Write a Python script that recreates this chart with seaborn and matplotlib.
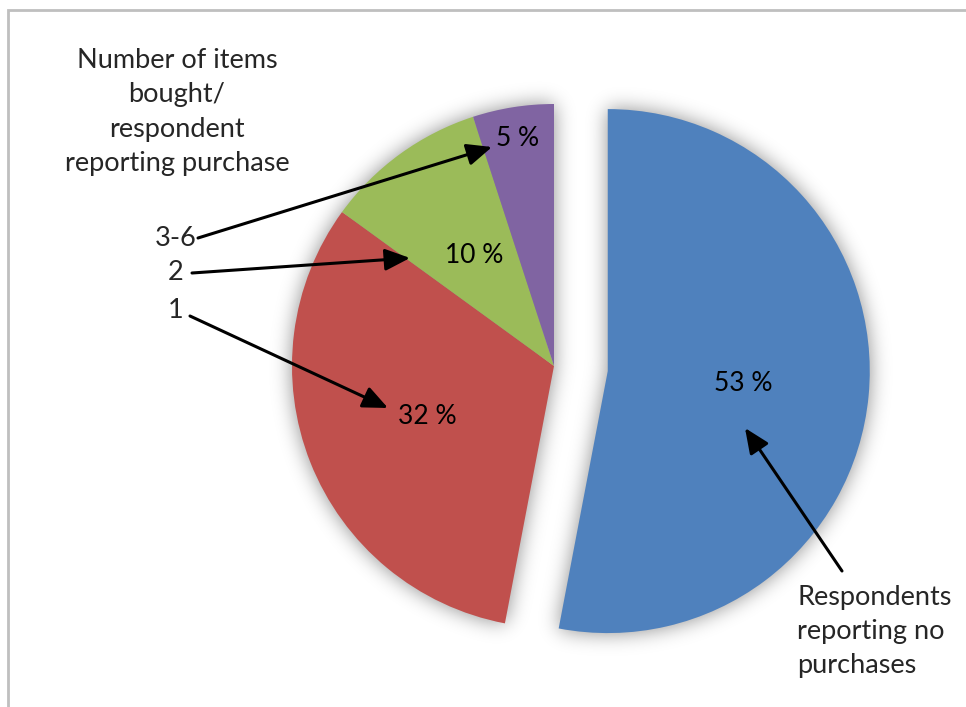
import numpy as np
import matplotlib
matplotlib.use("Agg")
import matplotlib.pyplot as plt
import seaborn as sns

# Share of respondents by number of items bought
categories = ["Respondents reporting no purchases", "1", "2", "3-6"]
shares = [53, 32, 10, 5]
colors = ["#4F81BD", "#C0504D", "#9BBB59", "#8064A2"]
legend_title = "Number of items\nbought/\nrespondent\nreporting purchase"

sns.set_theme(style="white")
plt.rcParams["font.family"] = ["Lato", "DejaVu Sans"]

W, H = 966, 707
fig = plt.figure(figsize=(W / 100, H / 100), dpi=100)
ax = fig.add_axes([0, 0, 1, 1])

def P(x, y):
    """Canvas position measured from the top-left corner."""
    return (x, H - y)

R = 262
center = P(554, 366)
explode = [54, 0, 0, 0]
fs = 19.5

wedges, texts, autotexts = ax.pie(
    shares, colors=colors, startangle=90, counterclock=False,
    radius=R, center=center, explode=explode,
    autopct=lambda p: f"{p:.0f} %", pctdistance=0.52,
    textprops=dict(fontsize=19, color="black"),
    wedgeprops=dict(linewidth=0),
)
# the narrowest slice carries its label near the rim
w = wedges[-1]
mid = np.deg2rad((w.theta1 + w.theta2) / 2)
autotexts[-1].set_position((w.center[0] + 0.88 * R * np.cos(mid),
                            w.center[1] + 0.88 * R * np.sin(mid)))
for t in autotexts:
    t.set_zorder(5)

ax.set_xlim(0, W)
ax.set_ylim(0, H)
ax.set_aspect("equal")
ax.axis("off")

# soft glow around the slices
xx, yy = np.meshgrid(np.arange(W) + 0.5, np.arange(H) + 0.5)
pts = np.column_stack([xx.ravel(), yy.ravel()])
mask = np.zeros(len(pts), dtype=bool)
for wd in wedges:
    mask |= wd.get_path().transformed(wd.get_patch_transform()).contains_points(pts)
mask = mask.reshape(H, W).astype(float)
sig = 10
k = np.arange(-3 * sig, 3 * sig + 1)
g = np.exp(-k ** 2 / (2 * sig ** 2)); g /= g.sum()
blur = np.apply_along_axis(lambda r: np.convolve(r, g, mode="same"), 1, mask)
blur = np.apply_along_axis(lambda c: np.convolve(c, g, mode="same"), 0, blur)
shadow = np.zeros((H, W, 4))
shadow[..., 3] = np.clip(blur * 0.45, 0, 1)
ax.imshow(shadow, extent=(0, W, 0, H), origin="lower", zorder=0.5,
          interpolation="bilinear")
for wd in wedges:
    wd.set_zorder(1)

# chart frame
ax.plot([P(7.5, 0)[0], P(7.5, 9.5)[0], W], [P(0, 707)[1], P(0, 9.5)[1], P(0, 9.5)[1]],
        color="#BFBFBF", lw=2, solid_joinstyle="miter", zorder=0.2)

ax.text(*P(177, 112), legend_title, ha="center", va="center", fontsize=fs,
        linespacing=1.46)
ax.text(*P(797, 632), categories[0].replace(" reporting", "\nreporting")
        .replace(" no purchases", " no\npurchases"),
        ha="left", va="center", fontsize=fs, linespacing=1.45)

arrow = dict(arrowstyle="-|>,head_length=0.8,head_width=0.35", lw=2.2,
             color="black", shrinkA=0, shrinkB=0, mutation_scale=19)
labels = [(categories[3], (176, 238), (198, 238), (492, 147)),
          (categories[2], (176, 273), (192, 273), (410, 258)),
          (categories[1], (176, 310), (190, 316), (388, 408))]
for name, tpos, tail, head in labels:
    ax.text(*P(*tpos), name, ha="center", va="center", fontsize=fs, zorder=6)
    ax.annotate("", xy=P(*head), xytext=P(*tail), arrowprops=arrow, zorder=6)
ax.annotate("", xy=P(745, 428), xytext=P(842, 571), arrowprops=arrow, zorder=6)

fig.savefig("out.png", dpi=100)
